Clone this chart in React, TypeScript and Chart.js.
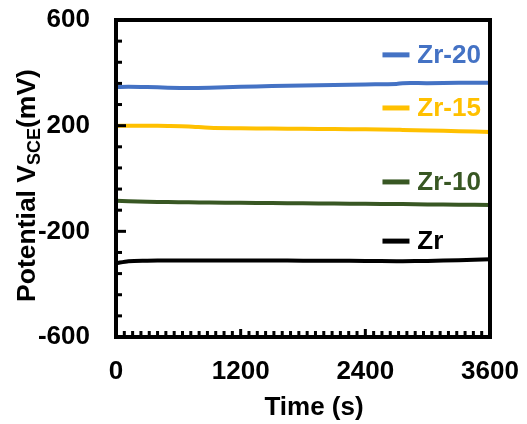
import React, { useEffect, useRef } from "react";
import { Chart, registerables } from "chart.js";

Chart.register(...registerables);

const times = [0, 120, 300, 500, 700, 900, 1200, 1500, 1800, 2100, 2400, 2700, 2760, 3000, 3300, 3600];
const zr20 = [346, 347, 346, 344, 343, 344, 347, 350, 352, 354, 356, 358, 361, 361, 362, 362];
const zr15 = [199, 200, 200, 199, 197, 192, 190, 189, 188, 187, 186, 185, 184, 182, 179, 176];
const zr10 = [-84, -86, -88, -89, -90, -91, -92, -93, -94, -95, -96, -97, -97, -98, -99, -100];
const zr = [-321, -313, -311, -310, -310, -310, -310, -310, -311, -311, -312, -313, -313, -312, -309, -306];

const seriesNames = ["Zr-20", "Zr-15", "Zr-10", "Zr"];
const seriesColors = ["#4472C4", "#FFC000", "#385723", "#000000"];
const seriesValues = [zr20, zr15, zr10, zr];
// legend anchor values (data units) for the in-plot labels
const legendAnchors = [468, 267, -13, -237];

const xMin = 0, xMax = 3600, xStep = 80, xLabelEvery = 1200;
const yMin = -600, yMax = 600, yStep = 80, yLabelEvery = 400;

const FONT = "'Liberation Sans', Arial, sans-serif";

const decor = {
  id: "decor",
  afterDatasetsDraw(chart: any) {
    const { ctx, chartArea, scales } = chart;
    const { left, right, top, bottom } = chartArea;
    const x = scales.x, y = scales.y;
    ctx.save();
    ctx.strokeStyle = "#000";
    ctx.lineCap = "butt";
    ctx.lineWidth = 3;
    y.ticks.forEach((t: any) => {
      const v = Math.round(t.value);
      const major = (v - yMin) % yLabelEvery === 0;
      const py = y.getPixelForValue(v);
      ctx.beginPath();
      ctx.moveTo(left, py);
      ctx.lineTo(left + (major ? 10 : 6), py);
      ctx.stroke();
    });
    x.ticks.forEach((t: any) => {
      const v = Math.round(t.value);
      const major = v % xLabelEvery === 0;
      const px = x.getPixelForValue(v);
      ctx.beginPath();
      ctx.moveTo(px, bottom);
      ctx.lineTo(px, bottom - (major ? 8 : 6));
      ctx.stroke();
    });
    ctx.lineWidth = 4;
    ctx.strokeRect(left, top, right - left, bottom - top);
    ctx.restore();
  },
  afterDraw(chart: any) {
    const { ctx, scales } = chart;
    const x = scales.x, y = scales.y;
    ctx.save();
    seriesNames.forEach((name, i) => {
      const py = y.getPixelForValue(legendAnchors[i]);
      const x0 = x.getPixelForValue(2565);
      const x1 = x.getPixelForValue(2825);
      ctx.strokeStyle = seriesColors[i];
      ctx.lineWidth = 5;
      ctx.beginPath();
      ctx.moveTo(x0, py);
      ctx.lineTo(x1, py);
      ctx.stroke();
      ctx.fillStyle = seriesColors[i];
      ctx.font = `bold 26px ${FONT}`;
      ctx.textAlign = "left";
      ctx.textBaseline = "alphabetic";
      ctx.fillText(name, x.getPixelForValue(2900), py + 8);
    });
    ctx.fillStyle = "#000";
    ctx.font = `bold 26px ${FONT}`;
    ctx.textAlign = "center";
    ctx.textBaseline = "alphabetic";
    ctx.fillText("Time (s)", 314, 415);
    ctx.translate(35, 185.5);
    ctx.rotate(-Math.PI / 2);
    const mainFont = `bold 26.5px ${FONT}`;
    const subFont = `bold 18px ${FONT}`;
    const p1 = "Potential V", p2 = "SCE", p3 = "(mV)";
    ctx.font = mainFont;
    const w1 = ctx.measureText(p1).width;
    const w3 = ctx.measureText(p3).width;
    ctx.font = subFont;
    const w2 = ctx.measureText(p2).width;
    let cx = -(w1 + w2 + w3) / 2;
    ctx.textAlign = "left";
    ctx.font = mainFont;
    ctx.fillText(p1, cx, 0);
    cx += w1;
    ctx.font = subFont;
    ctx.fillText(p2, cx, 5);
    cx += w2;
    ctx.font = mainFont;
    ctx.fillText(p3, cx, 0);
    ctx.restore();
  },
};

export default function App() {
  const ref = useRef<HTMLCanvasElement>(null);
  useEffect(() => {
    if (!ref.current) return;
    const chart = new Chart(ref.current, {
      type: "line",
      data: {
        datasets: seriesNames.map((name, i) => ({
          label: name,
          data: times.map((t, j) => ({ x: t, y: seriesValues[i][j] })),
          borderColor: seriesColors[i],
          borderWidth: 4,
          pointRadius: 0,
          tension: 0.3,
          fill: false,
        })),
      },
      options: {
        responsive: false,
        animation: false,
        layout: { padding: { top: 20, right: 37, left: 0, bottom: 0 } },
        plugins: { legend: { display: false }, tooltip: { enabled: false } },
        scales: {
          x: {
            type: "linear",
            min: xMin,
            max: xMax,
            grid: { display: false, drawTicks: false },
            border: { display: false },
            ticks: {
              stepSize: xStep,
              autoSkip: false,
              maxRotation: 0,
              padding: 19,
              color: "#000",
              font: { family: FONT, size: 26, weight: "bold" },
              callback: (v: any) => (Math.round(v) % xLabelEvery === 0 ? String(Math.round(v)) : ""),
            },
            afterFit: (s: any) => {
              s.height = 87;
              s.paddingLeft = 0;
              s.paddingRight = 0;
              s.paddingTop = 0;
              s.paddingBottom = 0;
            },
          },
          y: {
            min: yMin,
            max: yMax,
            grid: { display: false, drawTicks: false },
            border: { display: false },
            ticks: {
              stepSize: yStep,
              autoSkip: false,
              padding: 26,
              color: "#000",
              font: { family: FONT, size: 26, weight: "bold" },
              callback: (v: any) => ((Math.round(v) - yMin) % yLabelEvery === 0 ? String(Math.round(v)) : ""),
            },
            afterFit: (s: any) => {
              s.width = 116;
              s.paddingTop = 0;
              s.paddingBottom = 0;
              s.paddingLeft = 0;
              s.paddingRight = 0;
            },
          },
        },
      },
      plugins: [decor],
    });
    return () => chart.destroy();
  }, []);
  return (
    <div style={{ position: "fixed", left: 0, top: 0, width: 527, height: 424, background: "#fff" }}>
      <canvas ref={ref} width={527} height={424} />
    </div>
  );
}
